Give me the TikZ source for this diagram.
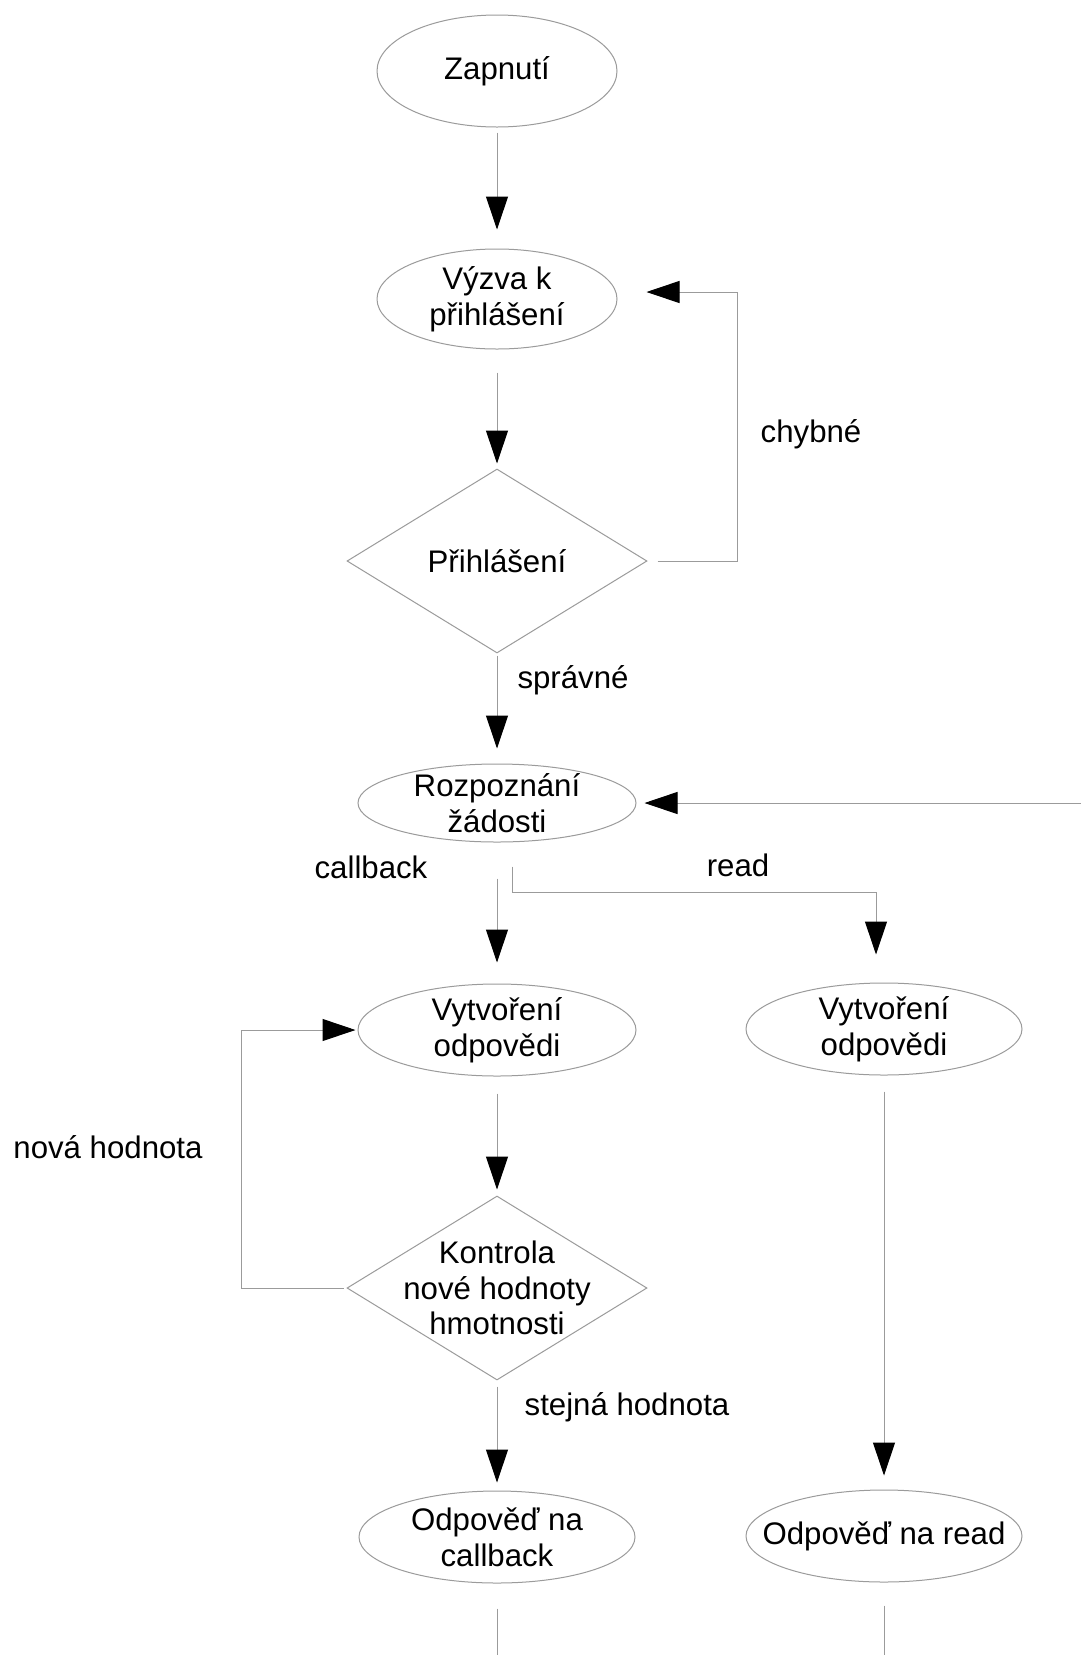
\documentclass[tikz,border=0pt]{standalone}
\usepackage{fontspec}
\setmainfont{Liberation Sans}
\usetikzlibrary{shapes.geometric,arrows.meta}
\definecolor{linegray}{RGB}{155,155,155}
\begin{document}
\begin{tikzpicture}[x=0.5pt,y=-0.5pt,
  txt/.style={font=\fontsize{15.6}{17.8}\selectfont, align=center, inner sep=0pt},
  ell/.style={ellipse, draw=linegray, line width=0.5pt, inner sep=0pt},
  dia/.style={diamond, draw=linegray, line width=0.5pt, inner sep=0pt, minimum width=150pt, minimum height=92pt},
  conn/.style={draw=linegray, line width=0.5pt, -{Triangle[length=16.5pt,width=11pt,color=black]}},
  plainline/.style={draw=linegray, line width=0.5pt}]
\useasboundingbox (0,0) rectangle (1081,1655);
\fill[white] (0,0) rectangle (1081,1655);

% shapes
\node[ell, minimum width=120pt, minimum height=56pt] (zap) at (497,71) {};
\node[ell, minimum width=120pt, minimum height=50pt] (vyz) at (497,299) {};
\node[dia] (pri) at (497,561) {};
\node[ell, minimum width=139pt, minimum height=39pt] (roz) at (497,803) {};
\node[ell, minimum width=139pt, minimum height=46pt] (vl) at (497,1030) {};
\node[ell, minimum width=138pt, minimum height=46pt] (vr) at (884,1029) {};
\node[dia] (kon) at (497,1288) {};
\node[ell, minimum width=138pt, minimum height=46pt] (odc) at (497,1537) {};
\node[ell, minimum width=138pt, minimum height=46pt] (odr) at (884,1536) {};

% texts in shapes
\node[txt] (zapt) at (zap) {Zapnutí};
\node[txt] (vyzt) at (vyz) {Výzva k\\přihlášení};
\node[txt] (prit) at (pri) {Přihlášení};
\node[txt] (rozt) at (roz) {Rozpoznání\\žádosti};
\node[txt] (vlt) at (vl) {Vytvoření\\odpovědi};
\node[txt] (vrt) at (vr) {Vytvoření\\odpovědi};
\node[txt] (kont) at (kon) {Kontrola\\nové hodnoty\\hmotnosti};
\node[txt] (odct) at (odc) {Odpověď na\\callback};
\node[txt] (odrt) at (odr) {Odpověď na read};

% labels
\node[txt] (lchyb) at (811,434) {chybné};
\node[txt] (lsprav) at (573,680) {správné};
\node[txt] (lcall) at (371,867) {callback};
\node[txt] (lread) at (738,865) {read};
\node[txt] (lnova) at (108,1147) {nová hodnota};
\node[txt] (lstej) at (627,1407) {stejná hodnota};

% helper coordinates
\coordinate (cyc) at (737,292);
\coordinate (rin) at (1081,803);
\coordinate (rbend) at (512,892);
\coordinate (cbot) at (497,1655);
\coordinate (rbot) at (884,1655);

% connectors
\draw[conn, shorten <=2.5pt, shorten >=9.5pt] (zap.south) -- (vyz.north);
\draw[conn, shorten <=11.5pt, shorten >=2.5pt] (vyz.south) -- (pri.north);
\draw[conn, shorten <=5pt, shorten >=14.5pt] (pri.east) -| (cyc) -- (vyz.east |- cyc);
\draw[conn, shorten <=1pt, shorten >=7.5pt] (pri.south) -- (roz.north);
\draw[conn, shorten >=4pt] (rin) -- (roz.east);
\draw[conn, shorten <=18pt, shorten >=10.5pt] (roz.south) -- (vl.north);
\draw[conn, shorten <=12pt, shorten >=14pt] ([xshift=7.5pt]roz.south) -- (rbend) -| ([xshift=-4pt]vr.north);
\draw[conn, shorten <=8.5pt, shorten >=3pt] (vl.south) -- (kon.north);
\draw[conn, shorten <=1.5pt, shorten >=1pt] (kon.west) -- ++(-105,0) |- (vl.west);
\draw[conn, shorten <=3pt, shorten >=4pt] (kon.south) -- (odc.north);
\draw[conn, shorten <=8pt, shorten >=7pt] (vr.south) -- (odr.north);
\draw[plainline, shorten <=12.5pt] (odc.south) -- (cbot);
\draw[plainline, shorten <=11.5pt] (odr.south) -- (rbot);
\end{tikzpicture}
\end{document}
